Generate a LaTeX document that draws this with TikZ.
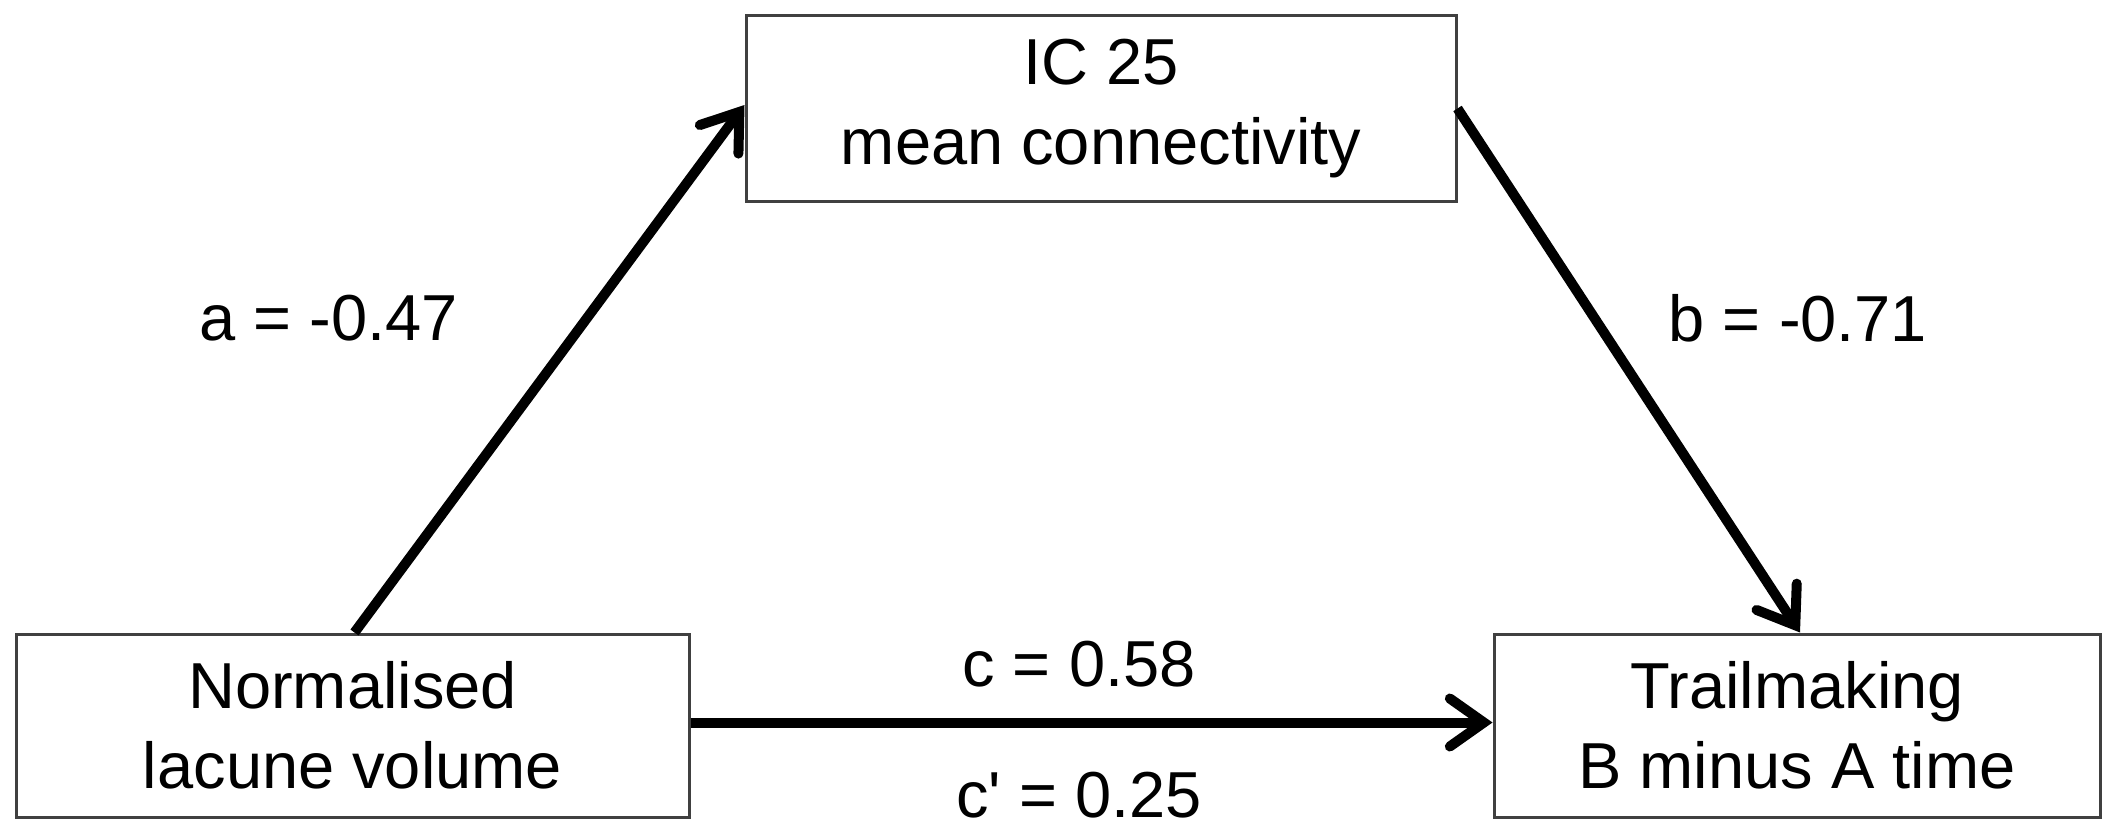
\documentclass[tikz,border=0pt]{standalone}
\usepackage{fontspec}
\setmainfont{Liberation Sans}
\newfontfamily\plainsans{Liberation Sans}
\usetikzlibrary{arrows.meta}
\begin{document}
\begin{tikzpicture}[x=1pt,y=-1pt,
  box/.style={draw=black!75, line width=3pt, fill=white, align=center, inner sep=0pt,
    font=\fontsize{65}{80}\selectfont},
  lbl/.style={font=\plainsans\fontsize{65}{80}\selectfont, inner sep=0pt},
  arr/.style={line width=10pt, -{Straight Barb[length=34pt, width=48pt, line cap=round]}}]
\useasboundingbox[fill=white] (0,0) rectangle (2107,824);
\node[box, minimum width=710pt, minimum height=185pt] (ic) at (1101,108.5) {IC 25\\mean connectivity};
\node[box, minimum width=673pt, minimum height=183pt] (lv) at (352.5,725.5) {Normalised\\lacune volume};
\node[box, minimum width=606pt, minimum height=183pt] (tm) at (1797,725.5) {Trailmaking\\B minus A time};
\draw[arr] ([xshift=2pt]lv.north) -- ([yshift=3.5pt]ic.west);
\draw[arr] (ic.east) -- ([xshift=3pt]tm.north);
\draw[arr] ([yshift=3pt]lv.east) -- ([yshift=3pt]tm.west);
\node[lbl] (la) at (329,318) {a = -0.47};
\node[lbl] (lb) at (1798,318) {b = -0.71};
\node[lbl] (lc) at (1079,664) {c = 0.58};
\node[lbl] (lcp) at (1079,795) {c' = 0.25};
\end{tikzpicture}
\end{document}
